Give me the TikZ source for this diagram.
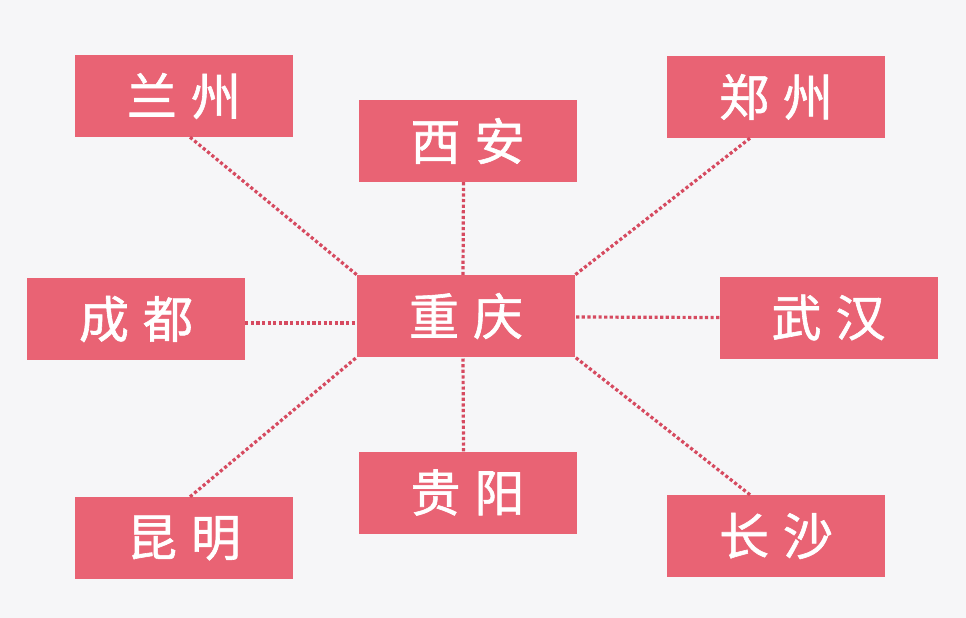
\documentclass[tikz,border=0pt]{standalone}
\usepackage{fontspec}
\newfontfamily\cjk[FakeBold=1.2]{Noto Sans CJK SC}
\definecolor{boxred}{RGB}{233,99,116}
\definecolor{dotred}{RGB}{214,74,96}
\definecolor{bgc}{RGB}{246,246,248}
\begin{document}
\begin{tikzpicture}[x=1pt,y=-1pt,
  city/.style={fill=boxred,draw=none,minimum width=218pt,minimum height=82pt,inner sep=0pt,
    text=white,font=\cjk\fontsize{50}{54}\selectfont},
  link/.style={draw=dotred,line width=3.2pt,dash pattern=on 3.2pt off 2.4pt}]
\fill[bgc] (0,0) rectangle (966,618);
\useasboundingbox (0,0) rectangle (966,618);
\node[city] (lz) at (184,96) {兰\hspace{14pt}州};
\node[city] (xa) at (467.5,141) {西\hspace{14pt}安};
\node[city] (zz) at (776,97) {郑\hspace{14pt}州};
\node[city] (cd) at (136,319) {成\hspace{14pt}都};
\node[city] (cq) at (466,316) {重\hspace{14pt}庆};
\node[city] (wh) at (828.5,317.5) {武\hspace{14pt}汉};
\node[city] (km) at (184,538) {昆\hspace{14pt}明};
\node[city] (gy) at (467.5,492.5) {贵\hspace{14pt}阳};
\node[city] (cs) at (776,536) {长\hspace{14pt}沙};
\path[link] ([xshift=6pt]lz.south) -- (cq.north west);
\path[link] ([xshift=-4pt]xa.south) -- ([xshift=-3pt]cq.north);
\path[link] ([xshift=-26pt]zz.south) -- (cq.north east);
\path[link] ([yshift=-4pt]cd.east) -- ([yshift=-7pt]cq.west);
\path[link] (wh.west) -- ([yshift=-1pt]cq.east);
\path[link] ([xshift=6pt]km.north) -- (cq.south west);
\path[link] ([xshift=-4pt]gy.north) -- ([xshift=-3pt]cq.south);
\path[link] ([xshift=-26pt]cs.north) -- (cq.south east);
\end{tikzpicture}
\end{document}
